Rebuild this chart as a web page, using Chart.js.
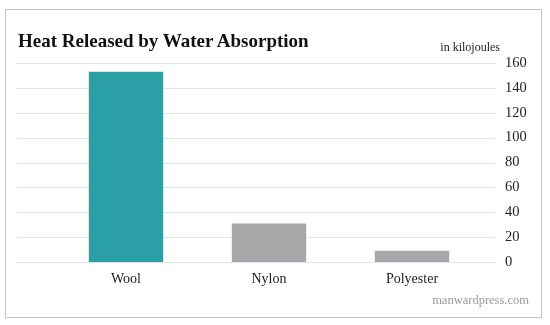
<!DOCTYPE html>
<html>
<head>
<meta charset="utf-8">
<script src="https://cdn.jsdelivr.net/npm/chart.js@4/dist/chart.umd.min.js"></script>
<style>
  html, body { margin: 0; padding: 0; background: #fff; }
  #wrap { position: relative; width: 550px; height: 325px; overflow: hidden; }
  #frame { position: absolute; left: 5px; top: 9px; width: 537px; height: 309px; border: 1px solid #c4c4c4; box-sizing: border-box; }
  canvas { position: absolute; left: 0; top: 0; }
  .txt { position: absolute; font-family: "Liberation Serif", serif; white-space: nowrap; line-height: 1; }
  #title { left: 18px; top: 31px; font-size: 19px; font-weight: bold; color: #111; }
  #unit { right: 50px; top: 41px; font-size: 12px; color: #222; }
  #source { right: 21px; top: 294px; font-size: 12.5px; color: #9a9a9a; }
</style>
</head>
<body>
<div id="wrap">
  <div id="frame"></div>
  <canvas id="heatChart" width="550" height="325"></canvas>
  <div class="txt" id="title">Heat Released by Water Absorption</div>
  <div class="txt" id="unit">in kilojoules</div>
  <div class="txt" id="source">manwardpress.com</div>
</div>
<script>
const fabrics = ['Wool', 'Nylon', 'Polyester'];
const heatKJ = [153, 31, 9];
const barColors = ['#2a9fa6', '#a8a8ab', '#a8a8ab'];
const yTicks = [0, 20, 40, 60, 80, 100, 120, 140, 160];

// horizontal guides run wider than the bars, so draw them ourselves
const wideGrid = {
    id: 'wideGrid',
    beforeDatasetsDraw(chart) {
        const ctx = chart.ctx;
        const y = chart.scales.y;
        ctx.save();
        ctx.strokeStyle = '#e4e4e4';
        ctx.lineWidth = 1;
        yTicks.forEach(v => {
            const py = Math.round(y.getPixelForValue(v)) + 0.5;
            ctx.beginPath();
            ctx.moveTo(17, py);
            ctx.lineTo(495, py);
            ctx.stroke();
        });
        ctx.restore();
    }
};

new Chart(document.getElementById('heatChart'), {
    type: 'bar',
    data: {
        labels: fabrics,
        datasets: [{
            data: heatKJ,
            backgroundColor: barColors,
            borderWidth: 0,
            categoryPercentage: 1,
            barPercentage: 0.52
        }]
    },
    options: {
        responsive: false,
        animation: false,
        layout: { padding: { left: 54.5, top: 63, right: 0, bottom: 0 } },
        plugins: { legend: { display: false }, tooltip: { enabled: false } },
        scales: {
            x: {
                grid: { display: false, drawTicks: false },
                border: { display: false },
                ticks: { color: '#222', padding: 9, font: { family: 'Liberation Serif', size: 14 } },
                afterFit(scale) { scale.height = 63; }
            },
            y: {
                position: 'right',
                min: 0,
                max: 160,
                grid: { display: false, drawTicks: false },
                border: { display: false },
                afterBuildTicks(scale) { scale.ticks = yTicks.map(v => ({ value: v })); },
                ticks: { color: '#222', padding: 21.5, font: { family: 'Liberation Serif', size: 14.5 } },
                afterFit(scale) { scale.width = 66.5; }
            }
        }
    },
    plugins: [wideGrid]
});
</script>
</body>
</html>
